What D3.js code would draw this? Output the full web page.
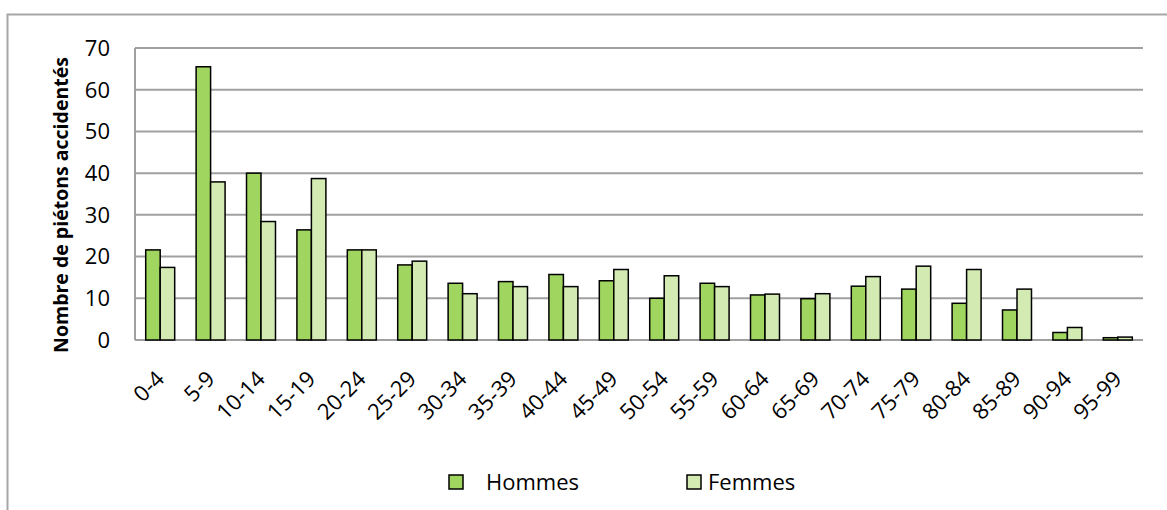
<!DOCTYPE html>
<html>
<head>
<meta charset="utf-8">
<script src="https://cdn.jsdelivr.net/npm/d3@7"></script>
<style>
  body { margin: 0; background: #fff; }
  svg { display: block; font-family: "Open Sans", sans-serif; }
</style>
</head>
<body>
<svg width="1167" height="510"></svg>
<script>
  const ageGroups = ['0-4', '5-9', '10-14', '15-19', '20-24', '25-29', '30-34', '35-39', '40-44', '45-49',
    '50-54', '55-59', '60-64', '65-69', '70-74', '75-79', '80-84', '85-89', '90-94', '95-99'];
  const hommes = [21.6, 65.5, 40.0, 26.4, 21.6, 18.0, 13.6, 14.0, 15.7, 14.2,
    10.0, 13.6, 10.8, 9.9, 12.9, 12.2, 8.8, 7.2, 1.8, 0.55];
  const femmes = [17.4, 37.9, 28.4, 38.7, 21.6, 18.9, 11.1, 12.8, 12.8, 16.9,
    15.4, 12.8, 11.0, 11.1, 15.2, 17.7, 16.9, 12.2, 3.0, 0.7];
  const yTicks = [0, 10, 20, 30, 40, 50, 60, 70];
  const seriesNames = ['Hommes', 'Femmes'];
  const colors = ['#a0d65f', '#d3ebb2'];

  const svg = d3.select('svg');

  // outer chart border (runs off the right/bottom edges)
  svg.append('rect')
      .attr('x', 7.5).attr('y', 14.5)
      .attr('width', 1200).attr('height', 600)
      .attr('fill', 'none')
      .attr('stroke', '#a6a6a6')
      .attr('stroke-width', 2);

  const plot = { left: 135, right: 1143, top: 48, bottom: 340 };

  const x = d3.scaleBand()
      .domain(ageGroups)
      .range([plot.left, plot.right]);

  const inner = d3.scaleBand()
      .domain(seriesNames)
      .range([0, x.bandwidth() * 0.575]);

  const y = d3.scaleLinear()
      .domain([0, 70])
      .range([plot.bottom, plot.top]);

  // gridlines
  svg.append('g')
      .selectAll('line')
      .data(yTicks)
      .join('line')
        .attr('x1', plot.left).attr('x2', plot.right)
        .attr('y1', d => y(d)).attr('y2', d => y(d))
        .attr('stroke', '#a0a0a0')
        .attr('stroke-width', 2);

  svg.append('line')
      .attr('x1', plot.left).attr('x2', plot.left)
      .attr('y1', plot.top).attr('y2', plot.bottom)
      .attr('stroke', '#a0a0a0')
      .attr('stroke-width', 2);

  // y labels
  svg.append('g')
      .selectAll('text')
      .data(yTicks)
      .join('text')
        .attr('x', 110)
        .attr('y', d => y(d))
        .attr('dy', '0.36em')
        .attr('text-anchor', 'end')
        .attr('font-size', 22)
        .attr('fill', '#000')
        .text(d => d);

  svg.append('text')
      .attr('transform', 'translate(68,205) rotate(-90)')
      .attr('text-anchor', 'middle')
      .attr('font-size', 19.5)
      .attr('font-weight', 'bold')
      .text('Nombre de piétons accidentés');

  // bars
  const groups = svg.append('g')
      .selectAll('g')
      .data(ageGroups.map((a, i) => ({ age: a, values: [hommes[i], femmes[i]] })))
      .join('g')
        .attr('transform', d => `translate(${x(d.age) + x.bandwidth() * 0.2125},0)`);

  groups.selectAll('rect')
      .data(d => d.values.map((v, i) => ({ name: seriesNames[i], value: v, i })))
      .join('rect')
        .attr('x', d => inner(d.name))
        .attr('y', d => y(d.value))
        .attr('width', inner.bandwidth())
        .attr('height', d => y(0) - y(d.value))
        .attr('fill', d => colors[d.i])
        .attr('stroke', '#000')
        .attr('stroke-width', 1.5);

  // x labels
  svg.append('g')
      .selectAll('text')
      .data(ageGroups)
      .join('text')
        .attr('transform', d => `translate(${x(d) + x.bandwidth() / 2},375) rotate(-45)`)
        .attr('text-anchor', 'end')
        .attr('font-size', 22)
        .attr('dy', '0.35em')
        .text(d => d);

  // legend
  const legendItems = [
    { name: 'Hommes', sx: 449, tx: 486 },
    { name: 'Femmes', sx: 687, tx: 708 }
  ];
  const legend = svg.append('g')
      .selectAll('g')
      .data(legendItems)
      .join('g');
  legend.append('rect')
      .attr('x', d => d.sx).attr('y', 475)
      .attr('width', 14).attr('height', 14)
      .attr('fill', (d, i) => colors[i])
      .attr('stroke', '#000')
      .attr('stroke-width', 1.5);
  legend.append('text')
      .attr('x', d => d.tx).attr('y', 490)
      .attr('font-size', 22)
      .text(d => d.name);
</script>
</body>
</html>
